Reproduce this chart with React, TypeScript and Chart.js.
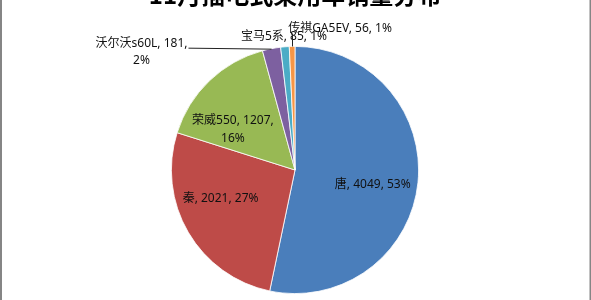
import React, { useEffect, useRef } from "react";
import { Chart, registerables } from "chart.js";

Chart.register(...registerables);

const chartTitle = "11月插电式乘用车销量分布";
const categories = ["唐", "秦", "荣威550", "沃尔沃s60L", "宝马5系", "传祺GA5EV"];
const sales = [4049, 2021, 1207, 181, 85, 56];
const sliceColors = ["#4A7EBB", "#BE4B48", "#98B954", "#7D60A0", "#4BACC6", "#F79646"];

// label placement style per slice (angle shift in degrees, radius fraction, or leader mode)
const labelStyle = [
  { kind: "inside", dAngle: 4.6, rFrac: 0.64, wrap: false },
  { kind: "inside", dAngle: 9.3, rFrac: 0.645, wrap: false },
  { kind: "inside", dAngle: -13, rFrac: 0.6, wrap: true },
  { kind: "leftLeader", dAngle: 0, rFrac: 1, wrap: true },
  { kind: "above", dAngle: 0, rFrac: 1, wrap: false },
  { kind: "upLeader", dAngle: 0, rFrac: 1, wrap: false },
];

const FONT = '12px "Noto Sans", "Noto Sans CJK SC", sans-serif';

const labelPlugin = {
  id: "pieLabels",
  beforeDraw(chart: any) {
    const ctx = chart.ctx;
    ctx.save();
    ctx.fillStyle = "#ffffff";
    ctx.fillRect(0, 0, chart.width, chart.height);
    ctx.restore();
  },
  afterDraw(chart: any) {
    const ctx = chart.ctx;
    const meta = chart.getDatasetMeta(0);
    const total = sales.reduce((a, b) => a + b, 0);
    ctx.save();
    ctx.font = FONT;
    ctx.fillStyle = "#111111";
    ctx.strokeStyle = "#222222";
    ctx.lineWidth = 1;
    ctx.textAlign = "center";
    ctx.textBaseline = "middle";
    meta.data.forEach((arc: any, i: number) => {
      const st = labelStyle[i];
      const pct = Math.round((sales[i] / total) * 100);
      const mid = (arc.startAngle + arc.endAngle) / 2;
      const a = mid + (st.dAngle * Math.PI) / 180;
      const r = arc.outerRadius * st.rFrac;
      const px = arc.x + r * Math.cos(a);
      const py = arc.y + r * Math.sin(a);
      const l1 = `${categories[i]}, ${sales[i]},`;
      const l2 = `${pct}%`;
      if (st.kind === "inside") {
        if (st.wrap) {
          ctx.fillText(l1, px, py - 9);
          ctx.fillText(l2, px, py + 9);
        } else {
          ctx.fillText(`${l1} ${l2}`, px, py);
        }
      } else if (st.kind === "leftLeader") {
        const endX = px - 83;
        ctx.beginPath();
        ctx.moveTo(px, py + 0.5);
        ctx.lineTo(endX, py - 0.5);
        ctx.stroke();
        const w = ctx.measureText(l1).width;
        const cx = endX - 1 - w / 2;
        ctx.fillText(l1, cx, py - 5.5);
        ctx.fillText(l2, cx, py + 11.5);
      } else if (st.kind === "above") {
        ctx.fillText(`${l1} ${l2}`, px - 1, py - 10);
      } else if (st.kind === "upLeader") {
        ctx.beginPath();
        ctx.moveTo(Math.round(px) + 0.5, py);
        ctx.lineTo(Math.round(px) + 0.5, py - 13);
        ctx.stroke();
        ctx.textAlign = "left";
        ctx.fillText(`${l1} ${l2}`, px - 4, py - 18);
        ctx.textAlign = "center";
      }
    });
    // title (partly cut at top)
    ctx.font = 'bold 24px "Noto Sans CJK SC", sans-serif';
    ctx.textAlign = "center";
    ctx.textBaseline = "alphabetic";
    ctx.fillStyle = "#000000";
    ctx.fillText(chartTitle, 295, 4);
    // frame
    ctx.fillStyle = "#858585";
    ctx.fillRect(0, 0, 2, chart.height);
    ctx.fillRect(chart.width - 1.5, 0, 1.5, chart.height);
    ctx.restore();
  },
};

export default function App() {
  const ref = useRef<HTMLCanvasElement | null>(null);
  useEffect(() => {
    if (!ref.current) return;
    const chart = new Chart(ref.current, {
      type: "pie",
      data: {
        labels: categories,
        datasets: [
          {
            data: sales,
            backgroundColor: sliceColors,
            borderColor: "#ffffff",
            borderWidth: 0.8,
          },
        ],
      },
      options: {
        responsive: false,
        animation: false,
        devicePixelRatio: 1,
        layout: { padding: { left: 171, right: 172, top: 46, bottom: 6 } },
        plugins: {
          legend: { display: false },
          tooltip: { enabled: false },
          title: { display: false },
        },
      },
      plugins: [labelPlugin],
    });
    return () => chart.destroy();
  }, []);
  return (
    <div style={{ position: "fixed", left: 0, top: 0, width: 591, height: 300, background: "#fff" }}>
      <canvas ref={ref} width={591} height={300} style={{ display: "block" }} />
    </div>
  );
}
